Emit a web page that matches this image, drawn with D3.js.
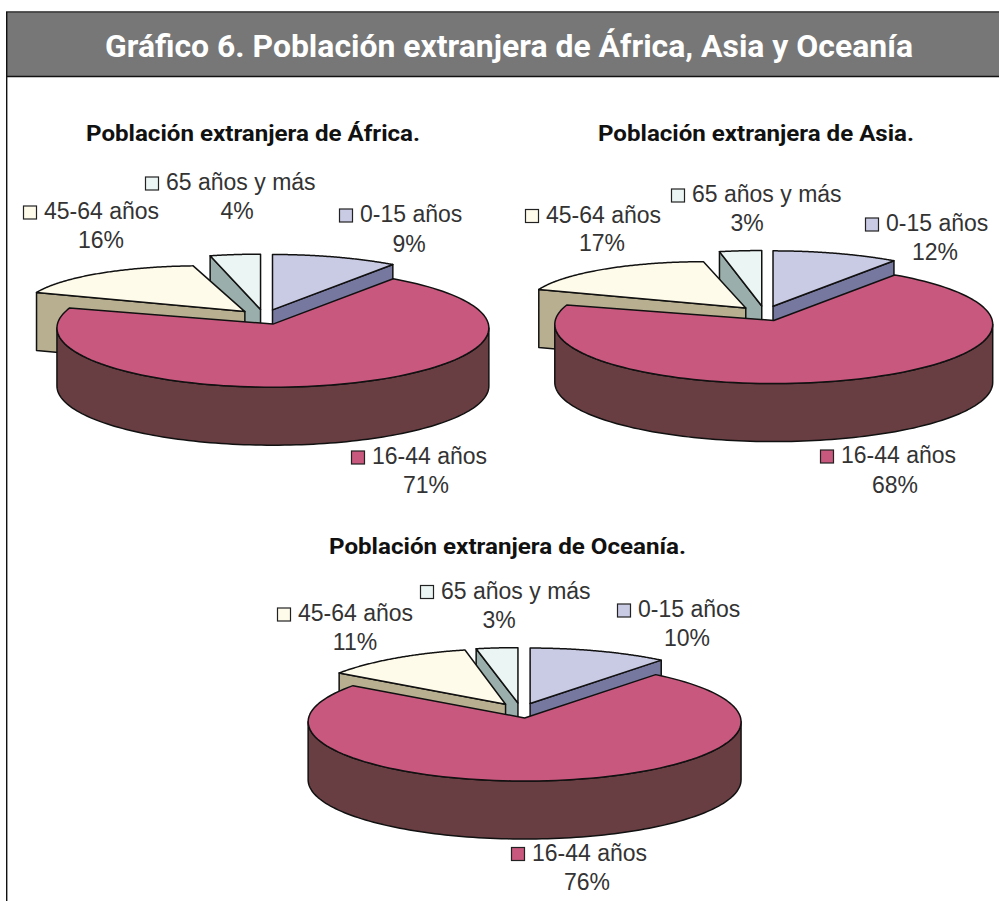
<!DOCTYPE html>
<html lang="es">
<head>
<meta charset="utf-8">
<script src="https://cdn.jsdelivr.net/npm/d3@7/dist/d3.min.js"></script>
<style>
html,body{margin:0;padding:0;background:#fff;overflow:hidden}
svg{display:block}
.lab{font-family:"Liberation Sans",Arial,sans-serif;font-size:23px;fill:#333}
.sub{font-family:Roboto,sans-serif;font-weight:700;font-size:22px;fill:#111}
.title{font-family:Roboto,sans-serif;font-weight:700;font-size:31.5px;fill:#fff}
</style>
</head>
<body>
<div id="chart"></div>
<script>
// ---- data ----
const chartTitle = "Gráfico 6. Población extranjera de África, Asia y Oceanía";
const categories = ["0-15 años", "16-44 años", "45-64 años", "65 años y más"];
const pieTitles = ["Población extranjera de África.", "Población extranjera de Asia.", "Población extranjera de Oceanía."];
// printed percentages
const africaLabels = [9, 71, 16, 4];
const asiaLabels = [12, 68, 17, 3];
const oceaniaLabels = [10, 76, 11, 3];
// size of each drawn slice, as measured on the picture (differs from the printed figure)
const africaSlices = [10, 69.5, 16.5, 4.0];
const asiaSlices = [9.9, 69.4, 17.4, 3.3];
const oceaniaSlices = [11, 73.6, 12.1, 3.3];

// ---- styles ----
const topColors = ["#C9CAE4", "#C9587F", "#FFFBEA", "#EBF5F3"];
const wallColors = ["#77789F", "#693E43", "#B8AF91", "#9AAFAB"];

// ---- layout ----
const width = 999, height = 901;
const ry = 59, persp = 0.065, depth = 58, burstX = 27.5, burstY = 7.5;
const pieLayout = [
  {cx: 264, cy: 317, rx: 215.5, rearDrop: [-3, 8], rearStretch: 1.025, title: {x0: 86, x1: 420, y: 140.5},
   text: [[360,222],[372,464],[44,219],[166,190]],
   pct: [[409,252],[426,493],[101,248],[237,219]]},
  {cx: 764.6, cy: 313.4, rx: 218.5, rearDrop: [-3, 8], rearStretch: 1, title: {x0: 598, x1: 914, y: 140.5},
   text: [[886,231],[841,463],[546,222.5],[692,202]],
   pct: [[935,260],[895,492.5],[602,251],[747,231]]},
  {cx: 520.8, cy: 710.5, rx: 216, rearDrop: [1, 0], rearStretch: 0.97, title: {x0: 329, x1: 686, y: 554},
   text: [[638,617],[532,860.5],[298,621],[441,598.5]],
   pct: [[687,645.5],[587,890],[355,650],[499,627.5]]}
];
const pieLabels = [africaLabels, asiaLabels, oceaniaLabels];
const pieSlices = [africaSlices, asiaSlices, oceaniaSlices];

const topColor = d3.scaleOrdinal(categories, topColors);
const wallColor = d3.scaleOrdinal(categories, wallColors);
const pieGen = d3.pie().sort(null).value(d => d.share);
const lineGen = d3.line();

const svg = d3.select("#chart").append("svg").attr("width", width).attr("height", height);

// frame and header
svg.append("rect").attr("x", 7).attr("y", 12.5).attr("width", width - 7).attr("height", 63.5).attr("fill", "#777777");
svg.append("line").attr("x1", 6).attr("x2", width).attr("y1", 12).attr("y2", 12).attr("stroke", "#222").attr("stroke-width", 1.4);
svg.append("line").attr("x1", 6).attr("x2", width).attr("y1", 76.5).attr("y2", 76.5).attr("stroke", "#111").attr("stroke-width", 1.6);
svg.append("line").attr("x1", 6.7).attr("x2", 6.7).attr("y1", 12).attr("y2", height).attr("stroke", "#111").attr("stroke-width", 1.4);
svg.append("text").attr("class", "title").attr("x", 105).attr("y", 57)
  .attr("textLength", 808).attr("lengthAdjust", "spacingAndGlyphs").text(chartTitle);

pieLayout.forEach((lay, p) => {
  const g = svg.append("g");
  g.append("text").attr("class", "sub").attr("x", lay.title.x0).attr("y", lay.title.y)
    .attr("textLength", lay.title.x1 - lay.title.x0).attr("lengthAdjust", "spacingAndGlyphs").text(pieTitles[p]);

  const rows = categories.map((c, i) => ({cat: c, share: pieSlices[p][i], label: pieLabels[p][i], index: i}));
  const arcs = pieGen(rows);

  const apexOf = a => {
    const mid = (a.startAngle + a.endAngle) / 2;
    return [lay.cx + burstX * Math.sin(mid), lay.cy - burstY * Math.cos(mid)];
  };
  const rim = (ap, t, stretch = 1, drop = 0) => {
    const s = 1 / (1 + persp * Math.cos(t));
    return [ap[0] + lay.rx * stretch * Math.sin(t) * s, ap[1] - ry * Math.cos(t) * s + drop];
  };
  // the rear-left slice is drawn flatter than the rest in the picture
  const sweep = (ap, t0, t1, stretch = 1, drops = [0, 0]) => d3.range(0, 121).map(k =>
    rim(ap, t0 + (t1 - t0) * k / 120, stretch, drops[0] + (drops[1] - drops[0]) * k / 120));
  const down = q => [q[0], q[1] + depth];
  const stroke = sel => sel.attr("stroke", "#111").attr("stroke-width", 1.5).attr("stroke-linejoin", "round");

  // back slices first, the large slice last
  [3, 2, 0, 1].forEach(i => {
    const a = arcs[i], ap = apexOf(a), cat = a.data.cat;
    const stretch = i === 2 ? lay.rearStretch : 1;
    const drops = i === 2 ? lay.rearDrop : [0, 0];
    const rimPts = sweep(ap, a.startAngle, a.endAngle, stretch, drops);
    let wallPts;
    if (i === 1) {
      const tan = Math.acos(-persp);
      const front = sweep(ap, tan, 2 * Math.PI - tan);
      wallPts = front.concat(front.slice().reverse().map(down));
    } else {
      const edge = i === 0 ? rimPts[rimPts.length - 1] : rimPts[0];
      wallPts = [ap, edge, down(edge), down(ap)];
    }
    g.append("path").attr("d", lineGen(wallPts) + "Z").attr("fill", wallColor(cat)).call(stroke);
    g.append("path").attr("d", lineGen([ap].concat(rimPts)) + "Z").attr("fill", topColor(cat)).call(stroke);
  });

  // labels with a small colour key
  rows.forEach((r, i) => {
    const [tx, ty] = lay.text[i], [px, py] = lay.pct[i];
    g.append("rect").attr("x", tx - 20.5).attr("y", ty - 13).attr("width", 13).attr("height", 13)
      .attr("fill", topColor(r.cat)).attr("stroke", "#222").attr("stroke-width", 1.2);
    g.append("text").attr("class", "lab").attr("x", tx).attr("y", ty).text(r.cat);
    g.append("text").attr("class", "lab").attr("x", px).attr("y", py).attr("text-anchor", "middle").text(r.label + "%");
  });
});
</script>
</body>
</html>
